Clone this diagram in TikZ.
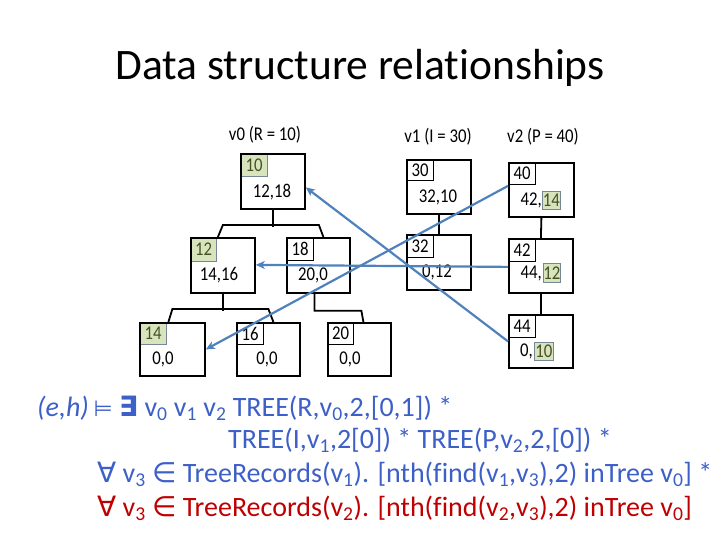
\documentclass[tikz,border=0pt]{standalone}
\usepackage{fontspec}
\setmainfont{Carlito}[Ligatures={NoCommon}]
\newfontfamily\symf{DejaVu Sans}
\newfontfamily\treef{Carlito}[FakeStretch=0.86,Ligatures={NoCommon}]
\usetikzlibrary{arrows.meta}
\definecolor{fblue}{RGB}{60,95,200}
\definecolor{fred}{RGB}{192,0,0}
\definecolor{arrowc}{RGB}{79,129,189}
\definecolor{keyfill}{RGB}{215,228,189}
\definecolor{keyline}{RGB}{120,135,150}
\definecolor{keytext}{RGB}{70,80,35}
\newcommand\vsub[1]{\textsubscript{#1}}
\begin{document}
\begin{tikzpicture}[x=1pt,y=-1pt,
  bx/.style={draw=black,line width=1.8pt,anchor=north west,inner sep=0pt},
  kb/.style={draw=black,line width=1.3pt,anchor=north west,inner sep=0pt,
    minimum width=27pt,minimum height=23pt,font=\treef\fontsize{19.5}{21}\selectfont},
  kg/.style={kb,draw=keyline,line width=1pt,fill=keyfill,text=keytext},
  hg/.style={draw=keyline,line width=0.8pt,fill=keyfill,text=keytext,anchor=west,
    inner sep=0pt,minimum width=18pt,minimum height=18pt,font=\treef\fontsize{19.5}{21}\selectfont},
  val/.style={inner sep=0pt,font=\treef\fontsize{19.5}{21}\selectfont},
  lbl/.style={inner sep=0pt,font=\treef\fontsize{19.5}{21}\selectfont},
  conn/.style={draw=black,line width=1.8pt},
  ptr/.style={draw=arrowc,line width=2.2pt,-{Stealth[length=9pt,width=8pt,inset=2.5pt]}},
  fml/.style={anchor=base west,inner sep=0pt,font=\fontsize{28}{32}\selectfont}
]
\path[use as bounding box] (0,0) rectangle (720,540);

% title
\node[anchor=base,inner sep=0pt,font=\fontsize{43.5}{50}\selectfont] (title) at (360,80) {Data structure relationships};

% ---- v0 tree ----
\node[lbl] (l0) at (265,135) {v0 (R = 10)};
\node[kg] (Rk) at (240,153) {10};
\node[bx,minimum width=64pt,minimum height=55pt] (R) at (240,153) {};
\node[val] (Rv) at (272,192) {12,18};

\node[kg,minimum width=26pt,minimum height=24pt] (Ak) at (190,237) {12};
\node[bx,minimum width=64pt,minimum height=55pt] (A) at (190,237) {};
\node[val] (Av) at (219,275) {14,16};

\node[kb] (Bk) at (286,237) {18};
\node[bx,minimum width=63pt,minimum height=55pt] (B) at (286,237) {};
\node[val] (Bv) at (313,275) {20,0};

\node[kg,minimum width=27pt,minimum height=22pt] (Ck) at (139,322) {14};
\node[bx,minimum width=65pt,minimum height=53pt] (C) at (139,322) {};
\node[val] (Cv) at (163,359) {0,0};

\node[kb,minimum height=22pt] (Dk) at (236,322) {16};
\node[bx,minimum width=63pt,minimum height=53pt] (D) at (236,322) {};
\node[val] (Dv) at (267,359) {0,0};

\node[kb,minimum width=26pt,minimum height=22pt] (Ek) at (327,322) {20};
\node[bx,minimum width=63pt,minimum height=53pt] (E) at (327,322) {};
\node[val] (Ev) at (350,359) {0,0};

\draw[conn] (R.south) -- ++(0,17);
\draw[conn] ([xshift=-5pt]A.north) -- ++(5,-12) -- ++(96,0) -- ([xshift=5pt]B.north);
\draw[conn] (A.south) -- ++(0,17);
\draw[conn] ([xshift=-4pt]C.north) -- ++(4,-13) -- ++(96,0) -- ([xshift=5pt]D.north);
\draw[conn] ([xshift=-4pt]B.south) -- ++(0,17) -- ++(47,0) -- ([xshift=4pt]E.north);

% ---- v1 tree ----
\node[lbl] (l1) at (438,137) {v1 (I = 30)};
\node[kb,minimum height=21pt] (P0k) at (406,159) {30};
\node[bx,minimum width=64pt,minimum height=54pt] (P0) at (406,159) {};
\node[val] (P0v) at (438,197) {32,10};

\node[kb] (P1k) at (406,234) {32};
\node[bx,minimum width=64pt,minimum height=55pt] (P1) at (406,234) {};
\node[val] (P1v) at (437,272) {0,12};

\draw[conn] (P0.south) -- (P1.north);

% ---- v2 tree ----
\node[lbl] (l2) at (543,137) {v2 (P = 40)};
\node[kb,minimum height=22pt] (Q1k) at (508,162) {40};
\node[bx,minimum width=65pt,minimum height=54pt] (Q1) at (508,162) {};
\node[val,anchor=east] (Q1v) at (542,200) {42,};
\node[hg] (Q1h) at (542,200) {14};

\node[kb] (Q2k) at (508,238) {42};
\node[bx,minimum width=64pt,minimum height=54pt] (Q2) at (508,238) {};
\node[val,anchor=east] (Q2v) at (542,273) {44,};
\node[hg,minimum width=17pt,minimum height=19pt] (Q2h) at (543,273) {12};

\node[kb] (Q3k) at (508,314) {44};
\node[bx,minimum width=64pt,minimum height=53pt] (Q3) at (508,314) {};
\node[val,anchor=east] (Q3v) at (533,351) {0,};
\node[hg,minimum width=19pt] (Q3h) at (534,351) {10};

\draw[conn] (Q1.south) -- (Q2.north);
\draw[conn] (Q2.south) -- (Q3.north);

% ---- pointers ----
\draw[ptr] (Q3.west) -- ([yshift=-6pt]R.east);
\draw[ptr] ([yshift=-1pt]Q2.west) -- ([yshift=0.5pt]A.east);
\draw[ptr] ([yshift=4pt]Q1.west) -- (C.east);

% ---- formula ----
\node[fml,text=fblue] (f1) at (37,416) {{\itshape (e,h)}\,{\symf\fontsize{22}{26}\selectfont ⊨} {\symf\bfseries ∃} v\vsub{0} v\vsub{1} v\vsub{2} TREE(R,v\vsub{0},2,[0,1]) *};
\node[fml,text=fblue] (f2) at (228,448) {TREE(I,v\vsub{1},2[0]) * TREE(P,v\vsub{2},2,[0]) *};
\node[fml,text=fblue] (f3) at (97,482) {{\symf ∀} v\vsub{3} {\symf ∈} TreeRecords(v\vsub{1}). [nth(find(v\vsub{1},v\vsub{3}),2) inTree v\vsub{0}] *};
\node[fml,text=fred] (f4) at (97,516) {{\symf ∀} v\vsub{3} {\symf ∈} TreeRecords(v\vsub{2}). [nth(find(v\vsub{2},v\vsub{3}),2) inTree v\vsub{0}]};
\end{tikzpicture}
\end{document}
